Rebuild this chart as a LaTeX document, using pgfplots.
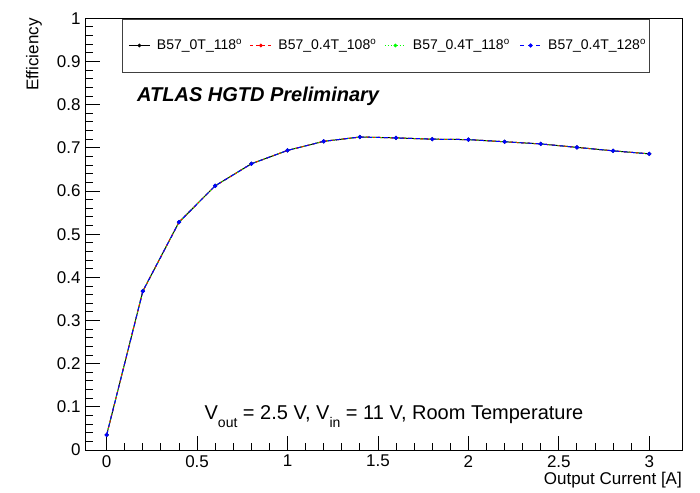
\documentclass[border=0pt]{standalone}
\usepackage{fontspec}
\setmainfont{Liberation Sans}
\usepackage{pgfplots}
\usepackage{pgfplotstable}
\pgfplotsset{compat=1.18}

\pgfplotstableread{
x    eff
0.0  0.035
0.2  0.368
0.4  0.528
0.6  0.612
0.8  0.663
1.0  0.694
1.2  0.715
1.4  0.725
1.6  0.723
1.8  0.720
2.0  0.719
2.2  0.714
2.4  0.709
2.6  0.701
2.8  0.693
3.0  0.686
}\tabA
\pgfplotstableread{
x    eff
0.0  0.035
0.2  0.368
0.4  0.528
0.6  0.612
0.8  0.663
1.0  0.694
1.2  0.715
1.4  0.725
1.6  0.723
1.8  0.720
2.0  0.719
2.2  0.714
2.4  0.709
2.6  0.701
2.8  0.693
3.0  0.686
}\tabB
\pgfplotstableread{
x    eff
0.0  0.035
0.2  0.368
0.4  0.528
0.6  0.612
0.8  0.663
1.0  0.694
1.2  0.715
1.4  0.725
1.6  0.723
1.8  0.720
2.0  0.719
2.2  0.714
2.4  0.709
2.6  0.701
2.8  0.693
3.0  0.686
}\tabC
\pgfplotstableread{
x    eff
0.0  0.035
0.2  0.368
0.4  0.528
0.6  0.612
0.8  0.663
1.0  0.694
1.2  0.715
1.4  0.725
1.6  0.723
1.8  0.720
2.0  0.719
2.2  0.714
2.4  0.709
2.6  0.701
2.8  0.693
3.0  0.686
}\tabD

\begin{document}
\begin{tikzpicture}
\begin{axis}[
  name=ax,
  scale only axis,
  width=596.3pt, height=431.7pt,
  xmin=-0.116, xmax=3.181, ymin=0, ymax=1,
  xtick={0,0.5,1,1.5,2,2.5,3},
  xticklabels={0,0.5,1,1.5,2,2.5,3},
  ytick={0,0.1,0.2,0.3,0.4,0.5,0.6,0.7,0.8,0.9,1},
  yticklabels={0,0.1,0.2,0.3,0.4,0.5,0.6,0.7,0.8,0.9,1},
  minor x tick num=4, minor y tick num=4,
  tick align=inside, xtick pos=bottom, ytick pos=left,
  major tick length=14.5pt, minor tick length=7.3pt,
  axis line style={line width=0.9pt},
  every tick/.style={black, line width=0.9pt},
  /pgf/number format/assume math mode=true,
  ticklabel style={font=\fontsize{17}{17}\selectfont},
  xticklabel style={anchor=north, inner sep=0pt, yshift=-5pt},
  yticklabel style={anchor=east, inner sep=0pt, xshift=-5pt},
  xlabel={Output Current [A]},
  ylabel={Efficiency},
  label style={font=\fontsize{17}{17}\selectfont, inner sep=0pt},
  xlabel style={at={(rel axis cs:1,-0.0795)}, anchor=base east},
  ylabel style={at={(rel axis cs:-0.0792,1)}, anchor=base east},
  legend columns=4,
  legend image code/.code={\draw[mark repeat=2,mark phase=2,#1] plot coordinates {(0pt,0pt) (10.5pt,0pt) (21pt,0pt)};},
  legend style={at={(0.0714,0.937)}, anchor=west, draw=none, fill=none,
    inner sep=0pt, font=\fontsize{14}{16}\selectfont,
    nodes={inner sep=0pt},
    /tikz/every odd column/.style={column sep=6.5pt},
    /tikz/every even column/.style={column sep=0pt}},
]
\addplot[black, line width=1pt, mark=*, mark size=1.3pt, mark options={solid}] table[x=x,y=eff] {\tabA};
\addlegendentry{\makebox[93pt][l]{B57\_0T\_118\textsuperscript{o}}}
\addplot[red, line width=1pt, dash pattern=on 3pt off 3pt, mark=*, mark size=1.3pt, mark options={solid}] table[x=x,y=eff] {\tabB};
\addlegendentry{\makebox[106pt][l]{B57\_0.4T\_108\textsuperscript{o}}}
\addplot[green, line width=1pt, dash pattern=on 1pt off 2pt, mark=*, mark size=1.3pt, mark options={solid}] table[x=x,y=eff] {\tabC};
\addlegendentry{\makebox[106.7pt][l]{B57\_0.4T\_118\textsuperscript{o}}}
\addplot[blue, line width=1pt, dash pattern=on 4pt off 4pt, mark=*, mark size=1.6pt, mark options={solid}] table[x=x,y=eff] {\tabD};
\addlegendentry{B57\_0.4T\_128\textsuperscript{o}}

\draw[line width=0.9pt, black!75] (rel axis cs:0.0614,0.8756) rectangle (rel axis cs:0.9452,0.9984);
\node[anchor=base west, inner sep=0pt, font=\fontsize{20}{20}\selectfont\bfseries\itshape] at (rel axis cs:0.0860,0.8061) {ATLAS HGTD Preliminary};
\node[anchor=base, inner sep=0pt, font=\fontsize{20}{20}\selectfont] at (rel axis cs:0.517,0.0718) {V\raisebox{-8pt}{\fontsize{14}{14}\selectfont out} = 2.5 V, V\raisebox{-8pt}{\fontsize{14}{14}\selectfont in} = 11 V, Room Temperature};
\end{axis}
\pgfresetboundingbox
\path (ax.south west) ++(-85.7pt,-42pt) rectangle ++(700pt,492pt);
\end{tikzpicture}
\end{document}
